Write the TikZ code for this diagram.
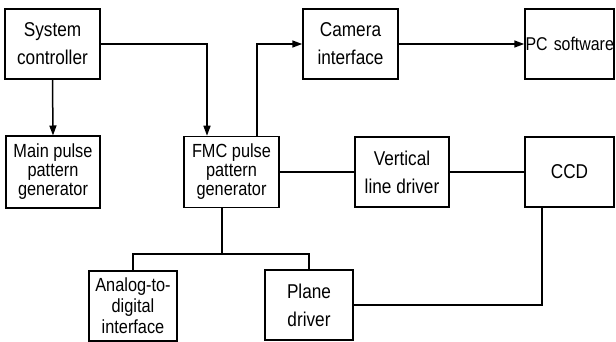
\documentclass[tikz,border=0pt]{standalone}
\usepackage{fontspec}
\setmainfont{Liberation Sans}[FakeStretch=0.86]
\usetikzlibrary{arrows.meta}
\begin{document}
\begin{tikzpicture}[x=1pt,y=-1pt,
  box/.style={draw, line width=1.5pt, inner sep=0pt, align=center},
  thick box/.style={box, line width=2pt},
  two/.style={font=\fontsize{20}{28}\selectfont},
  three/.style={font=\fontsize{19}{19}\selectfont},
  conn/.style={line width=1.5pt},
  arr/.style={conn, -{Triangle[length=10pt,width=7pt]}}]
\useasboundingbox (0,0) rectangle (616,342);
\node[box, two, minimum width=95pt, minimum height=70pt] (sc) at (52.5,44) {System\\controller};
\node[thick box, three, minimum width=94pt, minimum height=71pt] (mp) at (53,172) {Main pulse\\pattern\\generator};
\node[box, three, minimum width=95pt, minimum height=71pt] (fmc) at (231.5,172) {FMC pulse\\pattern\\generator};
\node[box, two, minimum width=95pt, minimum height=70pt] (cam) at (350.5,44) {Camera\\interface};
\node[box, font=\fontsize{18.5}{28}\selectfont, minimum width=89pt, minimum height=70pt, text width=88pt, align=left, inner xsep=0.5pt] (pc) at (569.5,44) {\mbox{PC software}};
\node[box, two, minimum width=94pt, minimum height=70pt] (vld) at (402,172) {Vertical\\line driver};
\node[box, two, minimum width=89pt, minimum height=70pt] (ccd) at (569.5,172) {CCD};
\node[thick box, font=\fontsize{19}{21}\selectfont, minimum width=88pt, minimum height=70pt] (adi) at (133,306) {Analog-to-\\digital\\interface};
\node[box, two, minimum width=88pt, minimum height=70pt] (pd) at (309,305) {Plane\\driver};
\coordinate (br) at (222,254);
\draw[arr] (sc.south) -- (mp.north);
\draw[arr] (sc.east) -| (fmc.north -| 207,0);
\draw[arr] (fmc.north -| 257,0) |- (cam.west);
\draw[arr] (cam.east) -- (pc.west);
\draw[conn] (fmc.east) -- (vld.west);
\draw[conn] (vld.east) -- (ccd.west);
\draw[conn] (fmc.south -| br) -- (br);
\draw[conn] (adi.north) |- (br) -| (pd.north);
\draw[conn] (pd.east) -| (ccd.south -| 542,0);
\end{tikzpicture}
\end{document}
